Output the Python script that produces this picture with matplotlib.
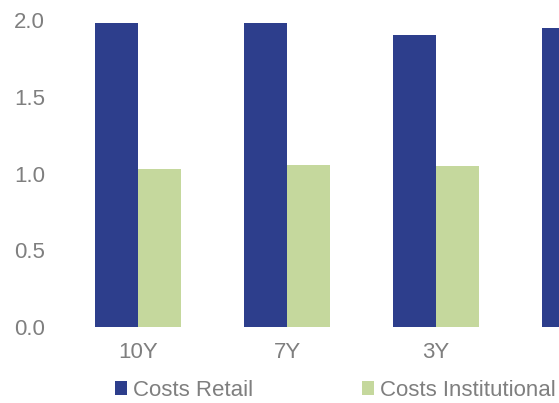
import matplotlib.pyplot as plt
import numpy as np

plt.rcParams['font.family'] = ['Liberation Sans', 'DejaVu Sans']

# data (4th group is cut off at the right edge)
categories = ["10Y", "7Y", "3Y", "1Y"]
costs_retail = [1.98, 1.98, 1.90, 1.95]
costs_institutional = [1.03, 1.055, 1.05, 1.03]
y_ticks = [0.0, 0.5, 1.0, 1.5, 2.0]

retail_color = '#2D3E8C'
inst_color = '#C5D89D'
text_color = '#7F7F7F'

fig = plt.figure(figsize=(5.59, 4.03), dpi=100)
ax = fig.add_axes([63.5 / 559, 1 - 327 / 403, 1 - 63.5 / 559, (327 - 20) / 403])

x = np.arange(len(categories))
w = 0.29
ax.bar(x - w / 2, costs_retail, w, color=retail_color, label="Costs Retail")
ax.bar(x + w / 2, costs_institutional, w, color=inst_color, label="Costs Institutional")

ax.set_yticks(y_ticks)
ax.set_yticklabels([f"{t:.1f}" for t in y_ticks])
ax.set_xticks(x)
ax.set_xticklabels(categories)
# limits after ticks, so the cut-off group stays cut off like the reference
ax.set_ylim(0, 2.0)
ax.set_xlim(-0.5, 2.825)
ax.tick_params(length=0, labelsize=16, colors=text_color)
ax.tick_params(axis='y', pad=13.5)
ax.tick_params(axis='x', pad=10.5)
for s in ax.spines.values():
    s.set_visible(False)

fig.legend(loc='center left', bbox_to_anchor=(115 / 559, 1 - 390 / 403), ncol=2,
           frameon=False, fontsize=16, labelcolor=text_color,
           borderpad=0, borderaxespad=0,
           handlelength=0.55, handleheight=0.6, handletextpad=0.27,
           columnspacing=4.9)

fig.savefig("out.png", dpi=100)
